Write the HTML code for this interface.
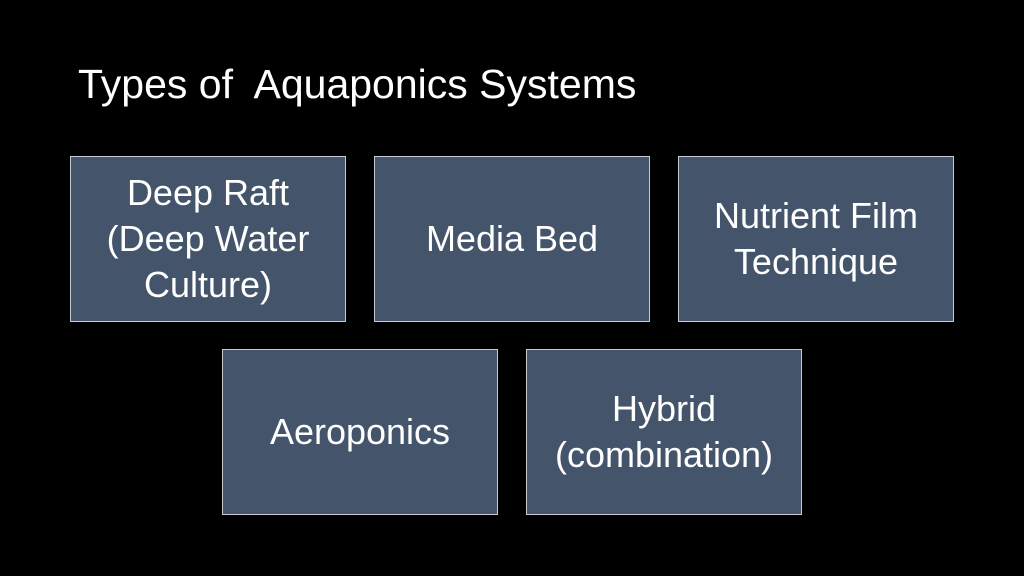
<!DOCTYPE html>
<html><head><style>
body{margin:0;width:1024px;height:576px;background:#000;overflow:hidden;position:relative;font-family:"Liberation Sans",sans-serif;}
.t{position:absolute;left:78px;top:61px;color:#fff;font-size:41px;white-space:pre;}
.b{position:absolute;width:274px;height:164px;background:#44546A;border:1px solid #c8ccd2;color:#fff;font-size:36px;line-height:46px;display:flex;align-items:center;justify-content:center;text-align:center;}
</style></head><body>
<div class="t">Types of  Aquaponics Systems</div>
<div class="b" style="left:70px;top:156px">Deep Raft<br>(Deep Water<br>Culture)</div>
<div class="b" style="left:374px;top:156px">Media Bed</div>
<div class="b" style="left:678px;top:156px">Nutrient Film<br>Technique</div>
<div class="b" style="left:222px;top:349px">Aeroponics</div>
<div class="b" style="left:526px;top:349px">Hybrid<br>(combination)</div>
</body></html>
